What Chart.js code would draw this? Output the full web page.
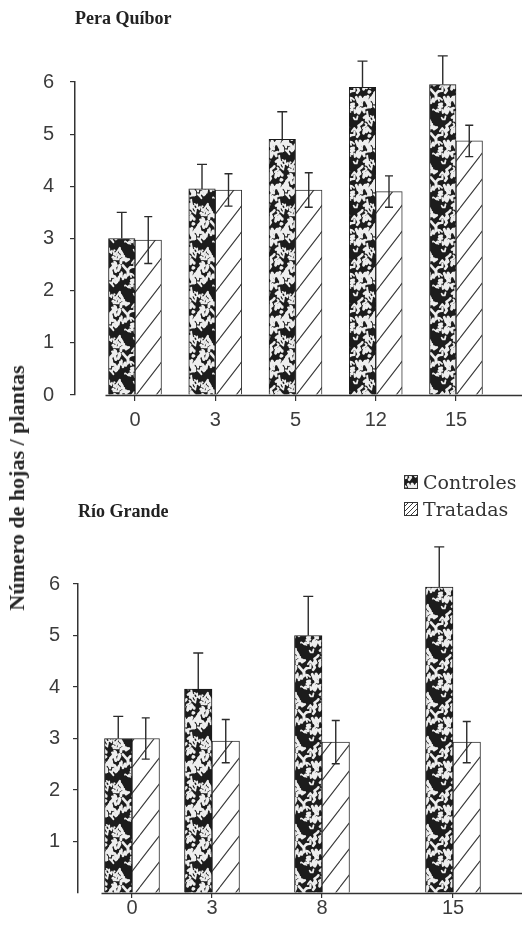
<!DOCTYPE html>
<html>
<head>
<meta charset="utf-8">
<script src="https://cdn.jsdelivr.net/npm/chart.js@4.4.1/dist/chart.umd.min.js"></script>
<style>
  html, body { margin: 0; padding: 0; background: #fff; }
  body { width: 522px; height: 925px; position: relative; overflow: hidden; }
  .panel { position: absolute; left: 0; width: 522px; }
  #ytitle {
    position: absolute; left: 17px; top: 488px;
    transform: translate(-50%, -50%) rotate(-90deg);
    font: bold 22px "Liberation Serif", "Times New Roman", serif;
    color: #262626; white-space: nowrap;
  }
  #legend { position: absolute; left: 404px; top: 468px; font: 19px "DejaVu Serif", serif; color: #333; }
  .item { display: flex; align-items: center; height: 27px; }
  .item canvas { width: 14px; height: 14px; margin-right: 5px; }
</style>
</head>
<body>
<div class="panel" style="top:0;height:445px"><canvas id="quibor"></canvas></div>
<div class="panel" style="top:445px;height:480px"><canvas id="riogrande"></canvas></div>
<div id="ytitle">Número de hojas / plantas</div>
<div id="legend">
  <div class="item"><canvas id="swCtrl" width="14" height="14"></canvas><span>Controles</span></div>
  <div class="item"><canvas id="swTrt" width="14" height="14"></canvas><span>Tratadas</span></div>
</div>
<script>
// ---- data: leaves per plant, mean and error ----
const daysQuibor = ['0', '3', '5', '12', '15'];
const controlesQuibor = [3.0, 3.95, 4.9, 5.9, 5.95];
const errControlesQuibor = [0.5, 0.47, 0.53, 0.5, 0.55];
const tratadasQuibor = [2.97, 3.93, 3.93, 3.9, 4.87];
const errTratadasQuibor = [0.45, 0.31, 0.33, 0.3, 0.3];

const daysRioGrande = ['0', '3', '8', '15'];
const controlesRioGrande = [3.0, 3.96, 5.0, 5.94];
const errControlesRioGrande = [0.43, 0.7, 0.76, 0.78];
const tratadasRioGrande = [3.0, 2.95, 2.93, 2.93];
const errTratadasRioGrande = [0.4, 0.42, 0.42, 0.4];

const yTickValues = [0, 1, 2, 3, 4, 5, 6];

// ---- layout: group centres along the x axis, in slot units ----
const slotsQuibor = [0, 1, 2, 3, 4];
const slotsRioGrande = [0, 1, 2.375, 4.0125];

// ---- fill patterns ----
function mottledPattern(size) {
  const c = document.createElement('canvas');
  c.width = c.height = size;
  const g = c.getContext('2d');
  g.fillStyle = '#1c1c1c';
  g.fillRect(0, 0, size, size);
  let seed = 4711;
  const rnd = () => (seed = (seed * 16807) % 2147483647) / 2147483647;
  g.strokeStyle = '#eeeeee';
  g.lineCap = 'round';
  g.lineJoin = 'round';
  for (let i = 0; i < 64; i++) {
    const pts = [[rnd() * size, rnd() * size]];
    for (let k = 0; k < 3; k++) {
      const p = pts[pts.length - 1];
      pts.push([p[0] + (rnd() - 0.5) * 6, p[1] + (rnd() - 0.5) * 8]);
    }
    g.lineWidth = 1.5 + rnd() * 1.6;
    for (const ox of [-size, 0, size]) {
      for (const oy of [-size, 0, size]) {
        g.beginPath();
        pts.forEach((p, j) => j ? g.lineTo(p[0] + ox, p[1] + oy) : g.moveTo(p[0] + ox, p[1] + oy));
        g.stroke();
      }
    }
  }
  return g.createPattern(c, 'repeat');
}

function hatchPattern(w, h, lw) {
  const c = document.createElement('canvas');
  c.width = w; c.height = h;
  const g = c.getContext('2d');
  g.fillStyle = '#fff';
  g.fillRect(0, 0, w, h);
  g.strokeStyle = '#3a3a3a';
  g.lineWidth = lw;
  g.beginPath();
  for (const dx of [-w, 0, w]) { g.moveTo(dx, h); g.lineTo(dx + w, 0); }
  g.stroke();
  return g.createPattern(c, 'repeat');
}

const mottled = mottledPattern(44);
const hatch = hatchPattern(20, 26, 1.1);

// legend swatches
function swatch(id, fill) {
  const g = document.getElementById(id).getContext('2d');
  g.fillStyle = fill;
  g.fillRect(0, 0, 14, 14);
  g.strokeStyle = '#333';
  g.lineWidth = 1;
  g.strokeRect(0.5, 0.5, 13, 13);
}
swatch('swCtrl', mottled);
swatch('swTrt', hatchPattern(5, 5, 1));

// ---- plugins ----
const errorBarPlugin = {
  id: 'errorBars',
  afterDatasetsDraw(chart) {
    const ctx = chart.ctx;
    const y = chart.scales.y;
    chart.data.datasets.forEach((ds, di) => {
      const meta = chart.getDatasetMeta(di);
      meta.data.forEach((bar, i) => {
        const v = ds.data[i].y, e = ds.errors[i];
        const top = y.getPixelForValue(v + e);
        const bottom = ds.errorBoth ? y.getPixelForValue(v - e) : bar.y;
        const cw = ds.capWidth / 2;
        ctx.save();
        ctx.strokeStyle = '#2b2b2b';
        ctx.lineWidth = 1.4;
        ctx.beginPath();
        ctx.moveTo(bar.x, bottom); ctx.lineTo(bar.x, top);
        ctx.moveTo(bar.x - cw, top); ctx.lineTo(bar.x + cw, top);
        if (ds.errorBoth) { ctx.moveTo(bar.x - cw, bottom); ctx.lineTo(bar.x + cw, bottom); }
        ctx.stroke();
        ctx.restore();
      });
    });
  }
};

// x axis line: starts just left of the first group and runs to the right edge
const baselinePlugin = {
  id: 'baseline',
  afterDraw(chart, args, opts) {
    const { ctx, scales: { x, y } } = chart;
    const y0 = Math.round(y.getPixelForValue(0)) + 0.5;
    const x0 = x.getPixelForValue(opts.start) - opts.inset;
    ctx.save();
    ctx.strokeStyle = '#333';
    ctx.lineWidth = 1.5;
    ctx.beginPath();
    ctx.moveTo(x0, y0);
    ctx.lineTo(chart.width, y0);
    ctx.stroke();
    ctx.restore();
  }
};

const tickFont = { family: '"Liberation Sans", Arial, sans-serif', size: 20, lineHeight: 1 };

function panel(id, cfg) {
  return new Chart(document.getElementById(id), {
    type: 'bar',
    data: {
      datasets: [
        {
          label: 'Controles',
          data: cfg.slots.map((s, i) => ({ x: s, y: cfg.ctrl[i] })),
          backgroundColor: mottled, borderColor: '#1a1a1a', borderWidth: 1,
          barThickness: cfg.bar, errors: cfg.ctrlErr, errorBoth: false, capWidth: 10
        },
        {
          label: 'Tratadas',
          data: cfg.slots.map((s, i) => ({ x: s, y: cfg.trt[i] })),
          backgroundColor: hatch, borderColor: '#333', borderWidth: 1,
          barThickness: cfg.bar, errors: cfg.trtErr, errorBoth: true, capWidth: 8
        }
      ]
    },
    options: {
      responsive: true, maintainAspectRatio: false, animation: false,
      layout: { padding: 0 },
      plugins: {
        legend: { display: false },
        tooltip: { enabled: false },
        title: {
          display: true, text: cfg.title, align: 'start', fullSize: false, color: '#222',
          font: { family: '"Liberation Serif", "Times New Roman", serif', size: 18, weight: 'bold', lineHeight: 1.2 },
          padding: { top: cfg.titleTop, bottom: cfg.titleBottom }
        },
        baseline: { start: cfg.slots[0], inset: cfg.bar + 3 }
      },
      scales: {
        x: {
          type: 'linear', min: cfg.xMin, max: cfg.xMax, bounds: 'data',
          offset: false,
          afterBuildTicks: s => { s.ticks = cfg.slots.map(v => ({ value: v })); },
          afterFit: s => { s.height = cfg.xAxisHeight; },
          ticks: {
            callback: (v, i) => cfg.labels[i], autoSkip: false, maxRotation: 0,
            color: '#3c3c3c', font: tickFont, padding: cfg.xPad
          },
          grid: { offset: false, drawOnChartArea: false, drawTicks: true, tickLength: cfg.xTick, color: '#333', lineWidth: 1.2 },
          border: { display: false }
        },
        y: {
          min: 0, max: 6,
          afterBuildTicks: s => { s.ticks = yTickValues.map(v => ({ value: v })); },
          afterFit: s => { s.width = cfg.yAxisWidth; },
          ticks: {
            callback: v => (cfg.hideZero && v === 0) ? '' : String(v),
            color: '#3c3c3c', font: tickFont, padding: cfg.yPad
          },
          grid: {
            drawOnChartArea: false, tickLength: 5, lineWidth: 1.2,
            color: c => (cfg.hideZero && c.tick && c.tick.value === 0) ? 'rgba(0,0,0,0)' : '#333'
          },
          border: { display: true, color: '#333', width: 1.5 }
        }
      }
    },
    plugins: [errorBarPlugin, baselinePlugin]
  });
}

panel('quibor', {
  title: 'Pera Quíbor', titleTop: 9, titleBottom: 51.4,
  labels: daysQuibor, slots: slotsQuibor,
  ctrl: controlesQuibor, ctrlErr: errControlesQuibor,
  trt: tratadasQuibor, trtErr: errTratadasQuibor,
  bar: 26.5, xMin: -0.7477, xMax: 4.8224,
  xAxisHeight: 50, xTick: 6, xPad: 9,
  yAxisWidth: 75, yPad: 16, hideZero: false
});

panel('riogrande', {
  title: 'Río Grande', titleTop: 56.2, titleBottom: 61.2,
  labels: daysRioGrande, slots: slotsRioGrande,
  ctrl: controlesRioGrande, ctrlErr: errControlesRioGrande,
  trt: tratadasRioGrande, trtErr: errTratadasRioGrande,
  bar: 27.5, xMin: -0.675, xMax: 4.875,
  xAxisHeight: 32, xTick: 5, xPad: 0,
  yAxisWidth: 78, yPad: 13, hideZero: true
});
</script>
</body>
</html>
